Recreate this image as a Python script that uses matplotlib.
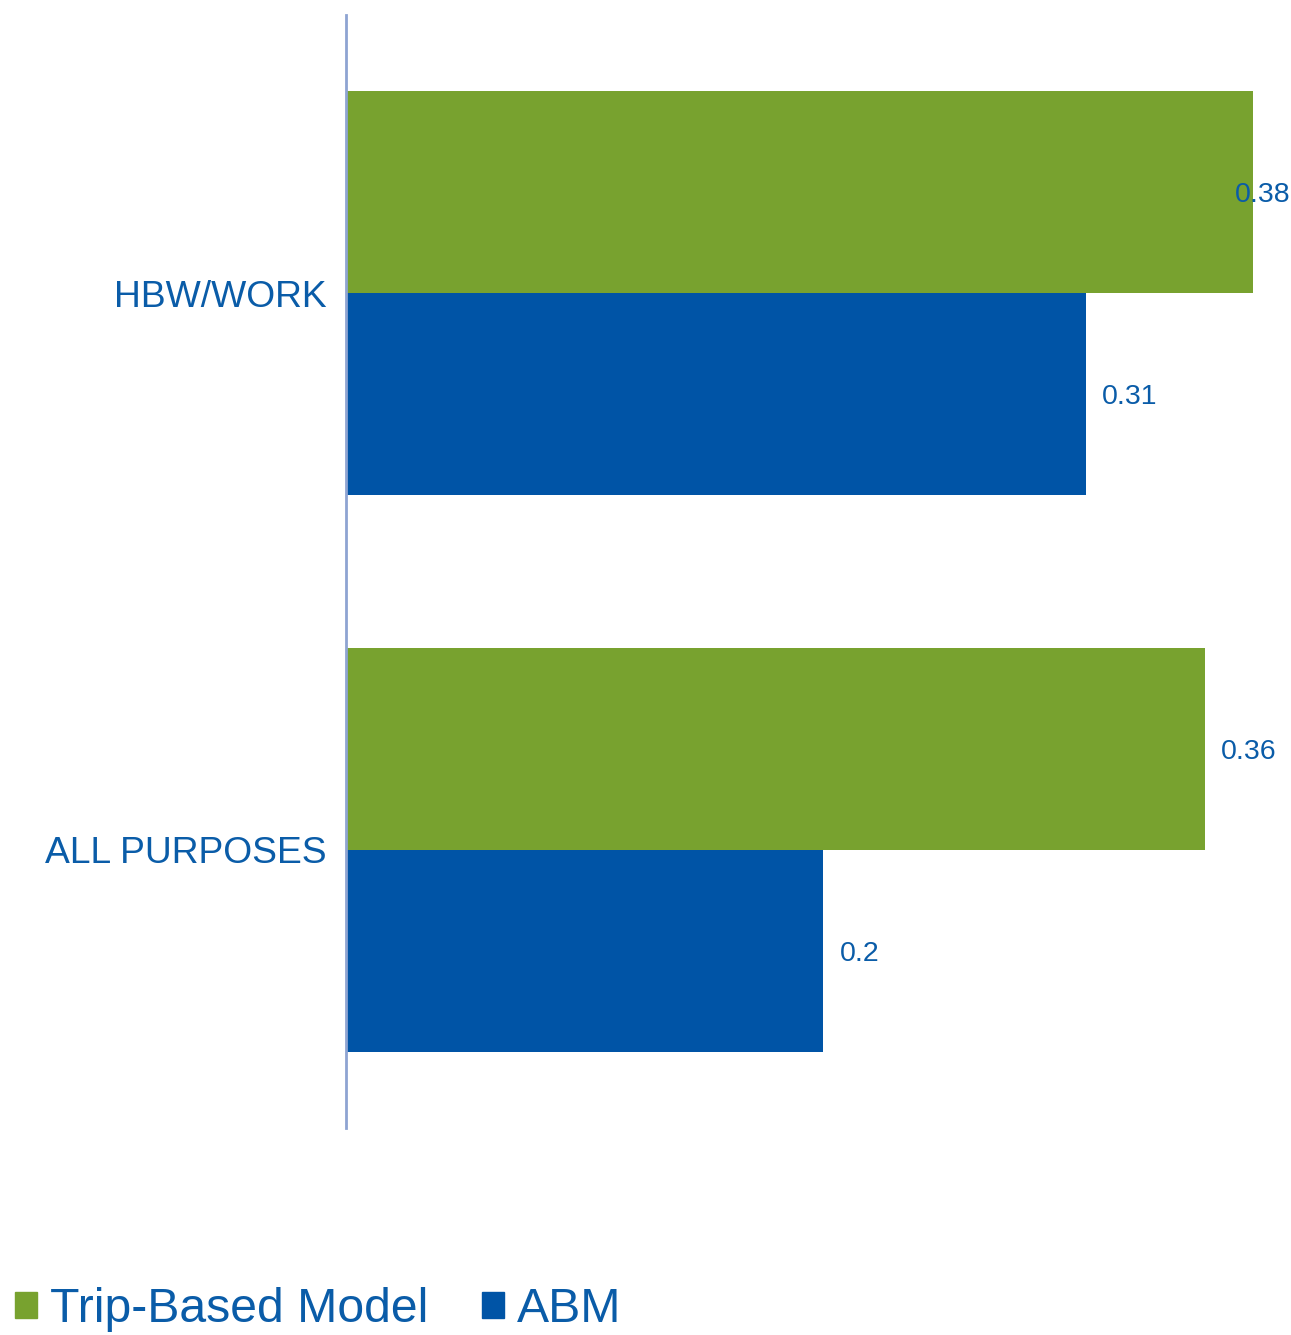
import matplotlib
matplotlib.use("Agg")
import matplotlib.pyplot as plt
from matplotlib.patches import Patch
import numpy as np

plt.rcParams['font.family'] = ['Liberation Sans', 'DejaVu Sans']

# data
categories = ['ALL PURPOSES', 'HBW/WORK']
trip_based = [0.36, 0.38]
abm = [0.2, 0.31]
series_names = ['Trip-Based Model', 'ABM']

green = '#78A22F'
blue = '#0054A6'
text_blue = '#0A5CA8'

fig = plt.figure(figsize=(12.91, 13.35), dpi=100)
ax = fig.add_axes([0.268, 0.155, 0.732, 0.8338])

y = np.arange(len(categories))
h = 0.3627
ax.barh(y + h / 2, trip_based, h, color=green, label=series_names[0])
ax.barh(y - h / 2, abm, h, color=blue, label=series_names[1])

xmax = 945 / 2387
ax.set_xlim(0, xmax)
ax.set_ylim(-0.5, 1.5)

pad = 16 / 2387
lab_w = 56 / 2387
for vals, off in [(trip_based, h / 2), (abm, -h / 2)]:
	for i, v in enumerate(vals):
		xl = min(v + pad, xmax - lab_w)
		ax.text(xl, y[i] + off, str(v), va='center_baseline', ha='left',
				fontsize=20.5, color=text_blue)

ax.set_yticks(y)
ax.set_yticklabels(categories, fontsize=26.8, color=text_blue)
ax.tick_params(axis='y', length=0, pad=14)
ax.set_xticks([])
for s in ['top', 'right', 'bottom']:
	ax.spines[s].set_visible(False)
ax.spines['left'].set_color('#8EA4D2')
ax.spines['left'].set_linewidth(2)

handles = [Patch(color=green), Patch(color=blue)]
fig.legend(handles, series_names, loc='lower left', bbox_to_anchor=(0.0116, 0.002),
		   ncol=2, frameon=False, fontsize=34.7, labelcolor=text_blue,
		   handlelength=0.46, handleheight=0.46, handletextpad=0.27,
		   columnspacing=1.1, borderpad=0, borderaxespad=0)

fig.savefig('out.png', dpi=100)
